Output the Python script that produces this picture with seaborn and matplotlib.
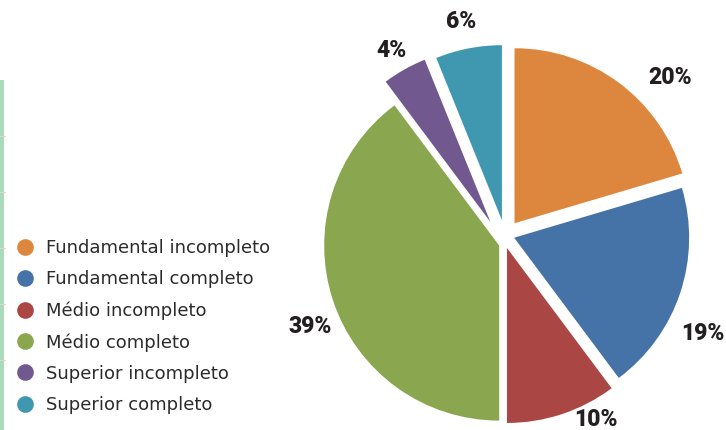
import matplotlib
matplotlib.use("Agg")
import matplotlib.pyplot as plt
from matplotlib.lines import Line2D
from matplotlib.patches import Rectangle
import numpy as np
import seaborn as sns

# Escolaridade: share of each education level (%)
categories = [
    "Fundamental incompleto",
    "Fundamental completo",
    "Médio incompleto",
    "Médio completo",
    "Superior incompleto",
    "Superior completo",
]
shares = [20, 19, 10, 39, 4, 6]

sns.set_theme(style="white")
plt.rcParams["font.family"] = ["DejaVu Sans"]

palette = sns.color_palette(["#DC863E", "#4673A7", "#AA4643", "#8AA64F", "#71588F", "#4098B0"])

W, H = 726, 430
fig = plt.figure(figsize=(W / 100, H / 100), dpi=100)
fig.patch.set_facecolor("white")

# pie axes spanning the figure, scaled so one data unit = pie radius in pixels
cx, cy, R = 505, 236, 175
ax = fig.add_axes([0, 0, 1, 1])
explode = [0.091, 0.049, 0.072, 0.047, 0.112, 0.092]
wedges, _ = ax.pie(
    shares,
    colors=palette,
    startangle=90,
    counterclock=False,
    explode=explode,
    radius=1,
    wedgeprops=dict(linewidth=0),
)
# fine nudges of individual slices (in pixels: right, up)
nudge_px = [(0, 0), (1, 1), (-2, 0), (2, -7), (-5, -3), (0, 0)]
for w, (dx, dy) in zip(wedges, nudge_px):
    x0, y0 = w.center
    w.set_center((x0 + dx / R, y0 + dy / R))

ax.set_xlim(-cx / R, (W - cx) / R)
ax.set_ylim(-(H - cy) / R, cy / R)
ax.set_aspect("auto")
ax.axis("off")

# percentage labels around the pie
vals = np.array(shares, dtype=float)
mid = 360 * (np.cumsum(vals) - vals / 2) / vals.sum()
angle_shift = [9.5, 8, -8, -6.5, -2, -0.5]
label_dist = [1.31, 1.26, 1.17, 1.23, 1.24, 1.25]
for v, m, s, d in zip(shares, mid, angle_shift, label_dist):
    t = np.deg2rad(m + s)
    ax.text(d * np.sin(t), d * np.cos(t), f"{v}%",
            ha="center", va="center", fontsize=16.5,
            fontweight="heavy", family=["Roboto", "DejaVu Sans"],
            color="#231F20")

# legend with round markers on the left
handles = [Line2D([], [], marker="o", linestyle="", markersize=12,
                  markerfacecolor=c, markeredgewidth=0) for c in palette]
fig.legend(handles, categories, loc="upper left",
           bbox_to_anchor=(16 / W, 1 - 239 / H),
           frameon=False, fontsize=13, handlelength=1.0,
           handletextpad=0.66, labelspacing=0.73,
           borderpad=0, borderaxespad=0, labelcolor="#2B2B2B")

# thin green strip on the left edge
fig.patches.append(Rectangle((0, 0), 3.5 / W, 1 - 80 / H,
                             transform=fig.transFigure,
                             facecolor="#A9DBBA", edgecolor="none"))
for yy in [136, 192, 248, 304, 360]:
    fig.lines.append(Line2D([0, 5 / W], [1 - yy / H, 1 - yy / H],
                            transform=fig.transFigure,
                            color="#D9D9D9", linewidth=0.8))

fig.savefig("out.png", dpi=100, facecolor="white")
